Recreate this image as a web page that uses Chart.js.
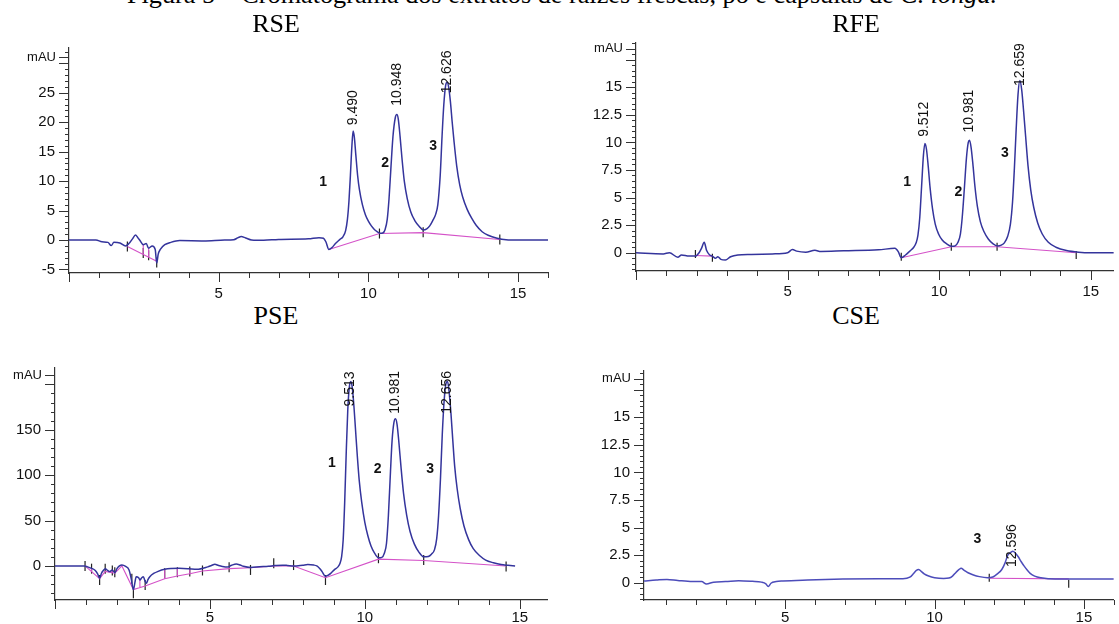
<!DOCTYPE html>
<html>
<head>
<meta charset="utf-8">
<script src="https://cdn.jsdelivr.net/npm/chart.js"></script>
<style>
  body { margin: 0; background: #fff; width: 1119px; height: 624px; overflow: hidden; position: relative; }
  #cap { position: absolute; left: 127px; top: -17px; font-family: "Liberation Serif", "Times New Roman", serif; font-size: 24px; line-height: 24px; white-space: nowrap; color: #000; }
  .ttl { position: absolute; width: 200px; text-align: center; font-family: "Liberation Serif", "Times New Roman", serif; font-size: 26px; line-height: 26px; color: #000; z-index: 2; }
  canvas { position: absolute; }
</style>
</head>
<body>
<span id="cap">Figura 5 – Cromatograma dos extratos de raízes frescas, pó e cápsulas de <i>C. longa.</i></span>
<div class="ttl" style="left:176px; top:11px">RSE</div>
<div class="ttl" style="left:756px; top:11px">RFE</div>
<div class="ttl" style="left:176px; top:303px">PSE</div>
<div class="ttl" style="left:756px; top:303px">CSE</div>
<canvas id="rse" width="560" height="264" style="left:0; top:36px"></canvas>
<canvas id="rfe" width="559" height="264" style="left:560px; top:36px"></canvas>
<canvas id="pse" width="560" height="284" style="left:0; top:340px"></canvas>
<canvas id="cse" width="559" height="284" style="left:560px; top:340px"></canvas>
<script>
// ---- RSE (raízes, extrato seco) ----
const rseTime = [0,0.9,1.1,1.3,1.41,1.5,1.7,1.89,2.0,2.12,2.22,2.3,2.36,2.48,2.58,2.66,2.78,2.88,2.93,2.98,3.05,3.2,3.4,3.7,4.5,5.2,5.5,5.65,5.75,5.9,6.1,6.5,7.0,8.0,8.35,8.5,8.58,8.68,8.78,8.9,9.05,9.15,9.24,9.3,9.35,9.4,9.45,9.49,9.53,9.58,9.64,9.7,9.8,9.9,10.0,10.1,10.2,10.3,10.38,10.48,10.56,10.63,10.69,10.75,10.82,10.9,10.95,11.0,11.06,11.12,11.2,11.3,11.42,11.55,11.7,11.83,11.95,12.05,12.15,12.25,12.32,12.4,12.46,12.52,12.58,12.63,12.68,12.74,12.8,12.86,12.95,13.05,13.15,13.3,13.45,13.6,13.8,14.0,14.3,14.6,15.0,16.0];
const rseSignal = [0,0,-0.3,-0.4,-0.95,-0.4,-0.5,-1.0,-0.6,0.2,0.85,0.4,0,-0.8,-0.6,-1.4,-1.0,-1.6,-3.9,-2.4,-1.6,-0.8,-0.4,-0.1,-0.15,0,0.05,0.4,0.6,0.35,0,-0.05,0.1,0.2,0.4,0.3,-0.3,-1.6,-1.3,-0.6,0.1,0.55,1.6,3.5,6.5,11,16,18.5,17.5,14.5,11,8.6,6.0,4.3,3.2,2.4,1.8,1.4,1.15,1.2,1.8,3.5,7,12,17.5,20.8,21.3,20.5,17.5,14,10,7,4.7,3.3,2.3,1.7,1.9,2.4,3.3,4.4,6,11,17.5,23,26.2,26.8,26,23.5,20,16.8,12.6,9.4,7.3,5.2,3.7,2.5,1.4,0.8,0.3,0.05,0,0];
const rseBaseT = [1.95,2.93,2.93,2.48,2.48,2.48,2.66,2.66,2.66,8.68,10.37,11.83,14.39];
const rseBaseV = [-1.1,-3.6,null,-0.8,-2.45,null,-1.4,-2.9,null,-1.6,1.1,1.25,0.1];
const rseMarkT = [1.95,2.48,2.66,2.93,10.37,11.83,14.39];
const rseMarkV = [-1.1,-2.2,-2.6,-3.8,1.1,1.3,0.1];
const rsePeakLabels = ['9.490','10.948','12.626'];
const rseYLabels = [-5,0,5,10,15,20,25];

// ---- RFE (raízes frescas) ----
const rfeTime = [0,0.9,1.1,1.38,1.5,1.75,1.96,2.08,2.16,2.25,2.33,2.43,2.52,2.62,2.7,2.8,2.95,3.12,3.36,3.8,4.5,5.0,5.16,5.3,5.6,5.9,6.1,6.85,8.0,8.54,8.65,8.75,8.89,9.05,9.15,9.24,9.3,9.36,9.42,9.48,9.53,9.58,9.64,9.7,9.78,9.87,9.98,10.1,10.25,10.4,10.52,10.62,10.7,10.76,10.83,10.9,10.96,11.0,11.05,11.11,11.18,11.26,11.36,11.48,11.62,11.78,11.92,12.05,12.15,12.26,12.35,12.42,12.48,12.54,12.6,12.66,12.72,12.78,12.85,12.93,13.02,13.12,13.25,13.4,13.6,13.85,14.2,14.6,15.0,15.76];
const rfeSignal = [0,-0.1,0,-0.4,-0.2,-0.3,-0.3,0,0.4,0.95,0.2,-0.2,-0.3,-0.5,-0.35,-0.6,-0.65,-0.36,-0.2,-0.15,-0.1,0,0.3,0.15,0.05,0.22,0.12,0.18,0.27,0.4,0.1,-0.45,-0.2,0.2,0.45,0.9,1.6,3.2,6.0,8.8,9.9,9.4,7.8,5.9,4.0,2.6,1.7,1.15,0.8,0.6,0.62,0.95,1.7,3.2,5.8,8.6,10.0,10.2,9.6,8.1,6.0,4.2,2.8,1.9,1.25,0.8,0.62,0.7,0.9,1.5,2.6,4.6,7.6,11.2,14.3,15.6,14.8,13,10.6,7.9,5.7,4.1,2.7,1.7,0.95,0.5,0.2,0.05,0,0];
const rfeBaseT = [1.96,2.52,2.52,8.75,10.4,11.91,14.52];
const rfeBaseV = [-0.25,-0.3,null,-0.45,0.55,0.55,0.0];
const rfeMarkT = [1.96,2.52,8.75,10.4,11.91,14.52];
const rfeMarkV = [-0.1,-0.45,-0.35,0.55,0.55,-0.2];
const rfePeakLabels = ['9.512','10.981','12.659'];
const rfeYLabels = [0,2.5,5,7.5,10,12.5,15];

// ---- PSE (pó) ----
const pseTime = [0,0.95,1.05,1.18,1.3,1.38,1.44,1.5,1.56,1.62,1.7,1.76,1.85,1.93,2.0,2.08,2.16,2.28,2.39,2.46,2.53,2.58,2.62,2.7,2.74,2.8,2.85,2.91,2.95,3.0,3.06,3.2,3.31,3.54,4.0,4.3,4.58,4.93,5.05,5.16,5.28,5.4,5.56,5.7,5.85,5.98,6.08,6.31,6.6,6.89,7.1,7.35,7.5,7.7,8.0,8.16,8.35,8.45,8.55,8.62,8.73,8.82,8.9,9.02,9.14,9.2,9.25,9.3,9.35,9.4,9.45,9.5,9.55,9.6,9.65,9.7,9.76,9.82,9.9,10.0,10.1,10.2,10.3,10.44,10.55,10.63,10.7,10.76,10.82,10.88,10.94,10.99,11.04,11.1,11.17,11.25,11.35,11.46,11.6,11.75,11.9,12.05,12.15,12.25,12.32,12.38,12.44,12.5,12.56,12.62,12.67,12.72,12.78,12.84,12.9,12.98,13.08,13.2,13.35,13.5,13.7,13.9,14.15,14.4,14.62,14.85];
const pseSignal = [0,0,-1,-2.6,-5,-9,-13.6,-8,-5,-3,-5,-6.2,-4.5,-7.4,-3,0,1.1,-0.5,-4.4,-14,-26,-18,-11.8,-13,-15.4,-13,-11.8,-17,-19,-15,-11.8,-8,-6.2,-3.7,-2.6,-3,-3.7,-1.0,0.5,1.8,0.5,-0.5,-1.2,0.8,2.2,1.0,-0.3,-1.6,-0.9,-0.3,0.4,0.9,0.6,0,0.9,1.5,1.0,0,-3,-6.2,-11.5,-10,-8.1,-4,-0.7,3,10,28,70,125,172,197,203,195,175,150,120,94,70,48,33,22,15,9,9.5,14,25,55,98,138,158,162,156,136,108,80,56,38,24,15,10,10.5,13,18,30,55,95,145,182,201,203,192,168,138,110,85,63,44,29,19,11.5,6.5,3.5,1.5,0.7,0];
const pseBaseT = [0.97,1.44,1.62,1.93,2.16,2.53,2.91,3.54,3.95,4.35,4.76,5.62,6.31,7.06,7.7,8.73,10.44,11.9,14.56,14.56,1.18,1.18,1.18,1.85,1.85,1.85,2.74,2.74,2.74,3.54,3.54,3.54,3.95,3.95,3.95,4.35,4.35];
const pseBaseV = [0,-14,-6,-8,0,-26,-22,-14,-11,-8.5,-5.5,-3,-2,0,0,-13,7.5,6,0,null,-2.6,-6.3,null,-4.5,-7.5,null,-15.4,-23.8,null,-3.7,-14,null,-2.6,-11,null,-3,-8.5];
const pseMarkT = [0.97,1.18,1.44,1.62,1.85,1.93,2.48,2.53,2.91,3.54,3.95,4.35,4.76,5.62,6.31,7.06,7.7,8.73,10.44,11.9,14.56];
const pseMarkV = [0,-3,-15.5,-3,-5,-7,-14,-30,-21,-8,-7,-6,-5,-1.5,-4.4,3,1,-15.5,8.5,6.6,-0.5];
const psePeakLabels = ['9.513','10.981','12.656'];
const pseYLabels = [0,50,100,150];

// ---- CSE (cápsulas) ----
const cseTime = [0.27,0.68,1.04,1.4,1.89,2.2,2.36,2.6,3.0,3.44,3.9,4.2,4.35,4.43,4.52,4.7,4.92,5.75,6.93,8.11,8.94,9.17,9.3,9.38,9.47,9.56,9.65,9.8,10.0,10.3,10.48,10.6,10.72,10.82,10.89,10.98,11.12,11.3,11.5,11.77,11.95,12.1,12.25,12.36,12.45,12.55,12.62,12.7,12.8,12.9,13.0,13.1,13.2,13.35,13.56,14.03,15.2,16];
const cseSignal = [0.15,0.24,0.3,0.2,0.1,0.1,-0.12,0.05,0.1,0.18,0.12,0.05,-0.1,-0.35,-0.05,0.1,0.15,0.24,0.33,0.36,0.36,0.5,0.85,1.1,1.2,1.0,0.8,0.6,0.45,0.38,0.42,0.6,0.95,1.2,1.3,1.15,0.9,0.7,0.55,0.45,0.52,0.8,1.2,1.8,2.5,2.75,2.85,2.7,2.35,1.9,1.5,1.15,0.85,0.6,0.45,0.33,0.33,0.33];
const cseBaseT = [11.83,14.49];
const cseBaseV = [0.4,0.35];
const cseMarkT = [11.83,14.49];
const cseMarkV = [0.45,-0.1];
const csePeakLabels = ['12.596'];
const cseYLabels = [0,2.5,5,7.5,10,12.5,15];

const timeLabels = [5,10,15];

// fit caption width to the reference
(function() {
  const cap = document.getElementById('cap');
  const w = cap.getBoundingClientRect().width;
  cap.style.fontSize = (24 * 870 / w).toFixed(2) + 'px';
})();

function pairs(xs, ys) {
  return xs.map((x, i) => ({x: x, y: ys[i]}));
}

const chromPlugin = {
  id: 'chrom',
  afterDatasetsDraw(chart, args, o) {
    const {ctx, chartArea, scales: {x, y}} = chart;
    ctx.save();
    ctx.strokeStyle = '#333';
    ctx.lineWidth = 1;
    ctx.beginPath();
    // y minor / major ticks
    for (let i = Math.ceil(y.min / o.yStep - 1e-9); i * o.yStep <= y.max + 1e-9; i++) {
      const v = i * o.yStep;
      const major = Math.abs(v / o.yMajor - Math.round(v / o.yMajor)) < 1e-6 || Math.abs(v - o.mau) < 1e-6;
      const py = Math.round(y.getPixelForValue(v)) + 0.5;
      ctx.moveTo(chartArea.left - (major ? 10 : 4), py);
      ctx.lineTo(chartArea.left, py);
    }
    // x ticks each minute
    for (let t = Math.ceil(x.min); t <= x.max + 1e-9; t++) {
      const px = Math.round(x.getPixelForValue(t)) + 0.5;
      ctx.moveTo(px, chartArea.bottom);
      ctx.lineTo(px, chartArea.bottom + (t % 5 === 0 ? 9 : 5));
    }
    ctx.stroke();

    ctx.fillStyle = '#111';
    ctx.font = '13px "Liberation Sans", Arial, sans-serif';
    ctx.textAlign = 'right';
    ctx.textBaseline = 'middle';
    ctx.fillText('mAU', chartArea.left - 13, y.getPixelForValue(o.mau));

    // retention time labels, rotated
    ctx.font = '14px "Liberation Sans", Arial, sans-serif';
    ctx.textAlign = 'left';
    o.peakLabels.forEach((txt, i) => {
      ctx.save();
      ctx.translate(x.getPixelForValue(parseFloat(txt)), y.getPixelForValue(o.labelBase[i]));
      ctx.rotate(-Math.PI / 2);
      ctx.fillText(txt, 0, 0);
      ctx.restore();
    });

    // peak numbers
    ctx.font = 'bold 14px "Liberation Sans", Arial, sans-serif';
    ctx.textAlign = 'center';
    o.numbers.forEach(n => {
      ctx.fillText(n.text, x.getPixelForValue(n.t), y.getPixelForValue(n.v));
    });
    ctx.restore();
  }
};

function createChromChart(id, c) {
  const ctx = document.getElementById(id);
  const tickFont = {family: '"Liberation Sans", Arial, sans-serif', size: 15};
  new Chart(ctx, {
    type: 'line',
    data: {
      datasets: [{
        data: pairs(c.time, c.signal),
        borderColor: c.color,
        borderWidth: 1.5,
        pointRadius: 0,
        cubicInterpolationMode: 'monotone'
      }, {
        data: pairs(c.baseT, c.baseV),
        borderColor: '#d452c8',
        borderWidth: 1.1,
        pointRadius: 0,
        spanGaps: false
      }, {
        data: pairs(c.markT, c.markV),
        showLine: false,
        pointStyle: 'line',
        rotation: 90,
        pointRadius: c.markR,
        pointBorderColor: '#222',
        pointBorderWidth: 1.2
      }]
    },
    options: {
      responsive: false,
      animation: false,
      events: [],
      layout: { padding: c.pad },
      plugins: {
        legend: { display: false },
        tooltip: { enabled: false },
        chrom: {
          yStep: c.yStep, yMajor: c.yMajor, mau: c.mau,
          peakLabels: c.peakLabels, labelBase: c.labelBase, numbers: c.numbers
        }
      },
      scales: {
        x: {
          type: 'linear',
          min: c.xMin, max: c.xMax,
          afterBuildTicks: s => { s.ticks = timeLabels.map(v => ({value: v})); },
          afterFit: s => { s.height = c.xH; s.paddingLeft = 0; s.paddingRight = 0; },
          grid: { display: false, drawTicks: false },
          border: { display: true, color: '#333', width: 1.2 },
          ticks: { padding: c.xPad, font: tickFont, color: '#111', maxRotation: 0, autoSkip: false, callback: v => String(v) }
        },
        y: {
          min: c.yMin, max: c.yMax,
          afterBuildTicks: s => { s.ticks = c.yLabels.map(v => ({value: v})); },
          afterFit: s => { s.width = c.yW; s.paddingTop = 0; s.paddingBottom = 0; },
          grid: { display: false, drawTicks: false },
          border: { display: true, color: '#333', width: 1.2 },
          ticks: { padding: 14, font: tickFont, color: '#111', autoSkip: false, callback: v => String(v) }
        }
      }
    },
    plugins: [chromPlugin]
  });
}

createChromChart('rse', {
  time: rseTime, signal: rseSignal, baseT: rseBaseT, baseV: rseBaseV, markT: rseMarkT, markV: rseMarkV,
  color: '#34349c', markR: 5,
  xMin: 0, xMax: 16, yMin: -5.6, yMax: 32.6, yStep: 1, yMajor: 5, mau: 31, yLabels: rseYLabels,
  pad: {left: 0, top: 12, right: 12, bottom: 0}, yW: 69, xH: 27, xPad: 12,
  peakLabels: rsePeakLabels, labelBase: [19.5, 22.8, 24.9],
  numbers: [{text: '1', t: 8.49, v: 9.8}, {text: '2', t: 10.56, v: 13.0}, {text: '3', t: 12.16, v: 15.9}]
});

createChromChart('rfe', {
  time: rfeTime, signal: rfeSignal, baseT: rfeBaseT, baseV: rfeBaseV, markT: rfeMarkT, markV: rfeMarkV,
  color: '#34349c', markR: 4,
  xMin: 0, xMax: 15.76, yMin: -1.65, yMax: 19.0, yStep: 0.5, yMajor: 2.5, mau: 18.5, yLabels: rfeYLabels,
  pad: {left: 0, top: 7, right: 0, bottom: 0}, yW: 76, xH: 29, xPad: 12,
  peakLabels: rfePeakLabels, labelBase: [10.5, 10.9, 15.1],
  numbers: [{text: '1', t: 8.94, v: 6.4}, {text: '2', t: 10.63, v: 5.5}, {text: '3', t: 12.17, v: 9.05}]
});

createChromChart('pse', {
  time: pseTime, signal: pseSignal, baseT: pseBaseT, baseV: pseBaseV, markT: pseMarkT, markV: pseMarkV,
  color: '#34349c', markR: 5,
  xMin: 0, xMax: 15.88, yMin: -37.5, yMax: 218, yStep: 10, yMajor: 50, mau: 210, yLabels: pseYLabels,
  pad: {left: 0, top: 28, right: 13, bottom: 0}, yW: 55, xH: 24, xPad: 9,
  peakLabels: psePeakLabels, labelBase: [175.6, 167.6, 167.6],
  numbers: [{text: '1', t: 8.94, v: 113}, {text: '2', t: 10.41, v: 106.6}, {text: '3', t: 12.11, v: 107}]
});

createChromChart('cse', {
  time: cseTime, signal: cseSignal, baseT: cseBaseT, baseV: cseBaseV, markT: cseMarkT, markV: cseMarkV,
  color: '#4c4cba', markR: 4,
  xMin: 0.27, xMax: 16, yMin: -1.57, yMax: 19.2, yStep: 0.5, yMajor: 2.5, mau: 18.5, yLabels: cseYLabels,
  pad: {left: 0, top: 31, right: 0, bottom: 0}, yW: 84, xH: 24, xPad: 9,
  peakLabels: csePeakLabels, labelBase: [1.42],
  numbers: [{text: '3', t: 11.43, v: 3.94}]
});
</script>
</body>
</html>
